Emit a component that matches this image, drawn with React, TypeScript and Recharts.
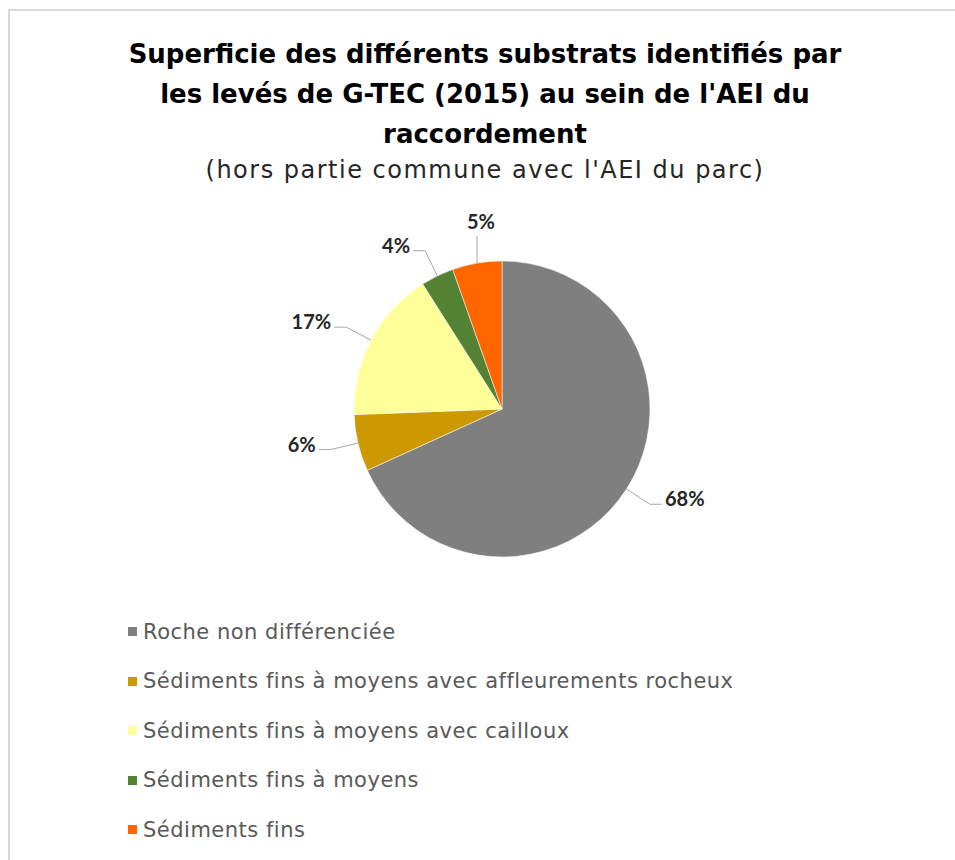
import * as React from "react";
import { Pie, PieChart, Cell, Legend } from "recharts";

// Surfaces (%), clockwise from 12 o'clock
const substrats = [
  "Roche non différenciée",
  "Sédiments fins à moyens avec affleurements rocheux",
  "Sédiments fins à moyens avec cailloux",
  "Sédiments fins à moyens",
  "Sédiments fins",
];
const parts = [68.2, 6.2, 16.6, 3.6, 5.4];
const couleurs = ["#7f7f7f", "#cc9900", "#ffff99", "#548235", "#ff6600"];

const titleLines = [
  "Superficie des différents substrats identifiés par",
  "les levés de G-TEC (2015) au sein de l'AEI du",
  "raccordement",
];
const subtitle = "(hors partie commune avec l'AEI du parc)";

const data = substrats.map((name, i) => ({ name, value: parts[i] }));

const RADIAN = Math.PI / 180;
const FONT = "'DejaVu Sans', sans-serif";

// Excel-like outside label with a bent leader line
const renderLabel = (props: any) => {
  const { cx, cy, midAngle, outerRadius, percent, index } = props;
  const cos = Math.cos(-midAngle * RADIAN);
  const sin = Math.sin(-midAngle * RADIAN);
  const sx = cx + outerRadius * cos;
  const sy = cy + outerRadius * sin;
  const ex = cx + (outerRadius + 28) * cos;
  const ey = cy + (outerRadius + 28) * sin;
  const txt = `${Math.round(percent * 100)}%`;
  const vertical = Math.abs(cos) < 0.25;
  if (vertical) {
    return (
      <g key={`lbl-${index}`}>
        <path d={`M${sx},${sy}L${sx},${ey}`} stroke="#a6a6a6" fill="none" />
        <text x={sx + 4} y={ey - 15} textAnchor="middle" dominantBaseline="central"
          fontFamily="Lato, sans-serif" fontWeight="bold" fontSize={20} fill="#262626">
          {txt}
        </text>
      </g>
    );
  }
  const dir = cos >= 0 ? 1 : -1;
  const hx = ex + dir * 12;
  return (
    <g key={`lbl-${index}`}>
      <path d={`M${sx},${sy}L${ex},${ey}L${hx},${ey}`} stroke="#a6a6a6" fill="none" />
      <text x={hx + dir * 3} y={ey - 6} textAnchor={dir > 0 ? "start" : "end"}
        dominantBaseline="central" fontFamily="Lato, sans-serif" fontWeight="bold"
        fontSize={20} fill="#262626">
        {txt}
      </text>
    </g>
  );
};

const renderLegend = () => (
  <div>
    {substrats.map((s, i) => (
      <div key={s} style={{ display: "flex", alignItems: "center", height: 49.5 }}>
        <span style={{ width: 9, height: 9, background: couleurs[i], marginRight: 6, display: "inline-block" }} />
        <span style={{ fontFamily: FONT, fontSize: 21, letterSpacing: 0.5, color: "#595959" }}>{s}</span>
      </div>
    ))}
  </div>
);

export default function App() {
  return (
    <div style={{ position: "absolute", left: 0, top: 0, width: 955, height: 860, overflow: "hidden", background: "#fff" }}>
      <div style={{ position: "absolute", left: 8, top: 9, width: 947, height: 851, borderLeft: "2px solid #d9d9d9", borderTop: "2px solid #d9d9d9" }} />
      <div style={{ position: "absolute", left: 0, top: 34, width: 970, textAlign: "center", fontFamily: FONT }}>
        {titleLines.map((l) => (
          <div key={l} style={{ fontSize: 26, fontWeight: "bold", color: "#000", lineHeight: "40px" }}>{l}</div>
        ))}
        <div style={{ fontSize: 24, letterSpacing: 1.5, color: "#262626", lineHeight: "32px" }}>{subtitle}</div>
      </div>
      <div style={{ position: "absolute", left: 0, top: 0 }}>
        <PieChart width={955} height={860} margin={{ top: 0, right: 0, bottom: 0, left: 0 }}>
          <Pie
            data={data}
            dataKey="value"
            nameKey="name"
            cx={502}
            cy={409}
            outerRadius={148}
            startAngle={90}
            endAngle={-270}
            stroke="#ffffff"
            strokeWidth={0.5}
            label={renderLabel}
            labelLine={false}
            isAnimationActive={false}
          >
            {data.map((d, i) => (
              <Cell key={d.name} fill={couleurs[i]} />
            ))}
          </Pie>
          <Legend content={renderLegend} wrapperStyle={{ position: "absolute", left: 128, top: 607, width: 800 }} />
        </PieChart>
      </div>
    </div>
  );
}
